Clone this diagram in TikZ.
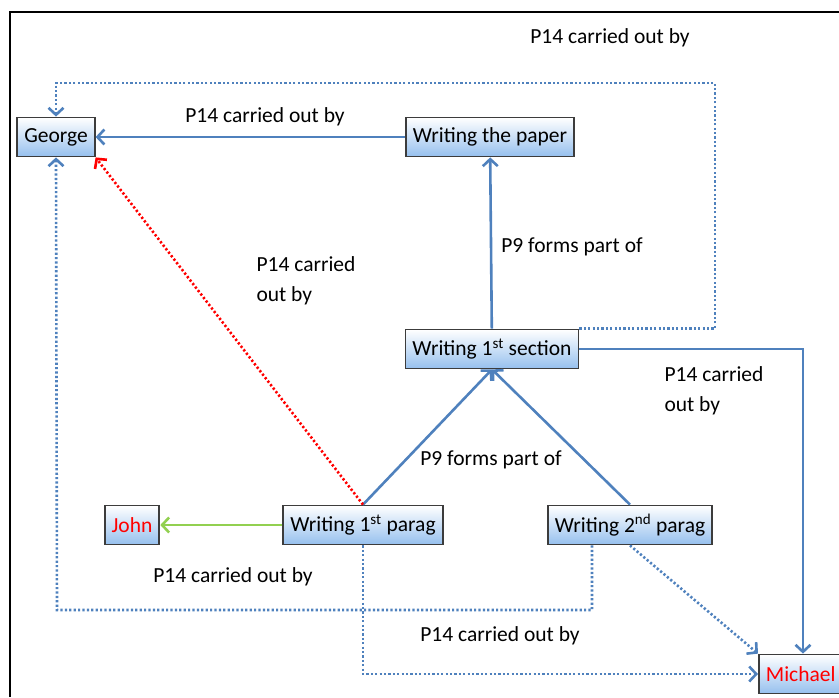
\documentclass[tikz,border=0pt]{standalone}
\usepackage{fontspec}
\setmainfont{Carlito}
\usetikzlibrary{arrows.meta,calc}
\definecolor{linkblue}{RGB}{79,129,189}
\definecolor{boxblue}{RGB}{150,192,238}
\definecolor{boxedge}{RGB}{60,60,60}
\definecolor{agentred}{RGB}{255,0,0}
\definecolor{johngreen}{RGB}{146,208,80}
\tikzset{
  entity/.style={draw=boxedge, line width=1.8pt, top color=white, bottom color=boxblue,
    minimum height=39pt, inner xsep=7pt, inner ysep=0pt,
    font=\fontsize{21.5}{24}\selectfont},
  lbl/.style={font=\fontsize{21.5}{30}\selectfont, inner sep=0pt},
  tip/.style={-{Straight Barb[length=7pt,width=15pt]}},
  solidlink/.style={tip, draw=linkblue, line width=2.6pt},
  dotlink/.style={tip, draw=linkblue, line width=2.6pt, dash pattern=on 2.2pt off 2.2pt},
  reddot/.style={tip, draw=agentred, line width=2.6pt, dash pattern=on 2.2pt off 2.2pt},
  greenlink/.style={tip, draw=johngreen, line width=2.6pt},
}
\begin{document}
\begin{tikzpicture}[x=1pt,y=-1pt]
\useasboundingbox (0,0) rectangle (839,697);
\clip (0,0) rectangle (839,697);
% frame
\draw[line width=2pt] (10,697) -- (10,12) -- (845,12);

% entities
\node[entity] (george) at (56,137) {George};
\node[entity] (paper)  at (490,137) {Writing the paper};
\node[entity] (sec)    at (492,349) {Writing 1\textsuperscript{st} section};
\node[entity] (john)   at (132,525) {\textcolor{agentred}{John}};
\node[entity] (p1)     at (363,525) {Writing 1\textsuperscript{st} parag};
\node[entity] (p2)     at (630,525) {Writing 2\textsuperscript{nd} parag};
\node[entity, anchor=west] (michael) at (758,674) {\textcolor{agentred}{Michael}};

% routing corners
\coordinate (topright) at (715,83);
\coordinate (botleft) at (57,610);

% connectors
\draw[solidlink] (paper) -- (george);
\draw[solidlink] (sec) -- (paper);
\draw[dotlink] (sec.north east) -| (topright) -| (george.north);
\draw[solidlink] (sec.east) -| ($(michael.north west)+(45,0)$);
\draw[solidlink] (p1.north) -- (sec.south);
\draw[solidlink] (p2.north) -- (sec.south);
\draw[reddot] (p1.north) -- (george.south east);
\draw[greenlink] (p1.west) -- (john.east);
\draw[dotlink] ($(p2.south)+(-38,0)$) |- (botleft) -- (george.south);
\draw[dotlink] (p1.south) |- (michael.west);
\draw[dotlink] (p2.south) -- (michael.north west);

% labels
\node[lbl] (l1) at (265,117) {P14 carried out by};
\node[lbl] (l2) at (610,38) {P14 carried out by};
\node[lbl] (l3) at (572,247) {P9 forms part of};
\node[lbl, align=left] (l4) at (306,281) {P14 carried\\out by};
\node[lbl, align=left] (l5) at (714,391) {P14 carried\\out by};
\node[lbl] (l6) at (491,460) {P9 forms part of};
\node[lbl] (l7) at (233,577) {P14 carried out by};
\node[lbl] (l8) at (500,636) {P14 carried out by};
\end{tikzpicture}
\end{document}
